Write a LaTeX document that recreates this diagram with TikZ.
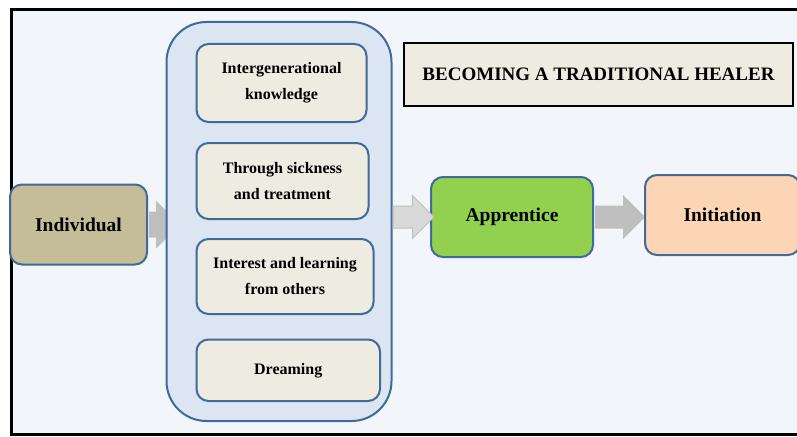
\documentclass[tikz,border=0pt]{standalone}
\usepackage{fontspec}
\setmainfont{Liberation Serif}
\usepackage{tikz}
\usetikzlibrary{positioning,shapes,shapes.arrows}

\definecolor{frameBg}{HTML}{F2F5FA}
\definecolor{groupFill}{HTML}{DCE6F2}
\definecolor{boxLine}{HTML}{41699A}
\definecolor{boxFill}{HTML}{EEECE1}
\definecolor{indFill}{HTML}{C4BD97}
\definecolor{appFill}{HTML}{92D050}
\definecolor{iniFill}{HTML}{FCD5B5}
\definecolor{arrowGray}{HTML}{BFBFBF}
\definecolor{arrowLight}{HTML}{D9D9D9}

\begin{document}
\begin{tikzpicture}[x=1pt, y=-1pt, line width=2pt,
    stagebox/.style={draw=boxLine, rounded corners=12pt, minimum height=80pt, inner sep=0pt, font=\fontsize{19.5}{24}\selectfont\bfseries},
    waybox/.style={draw=boxLine, fill=boxFill, rounded corners=12pt, inner sep=0pt, align=center, font=\fontsize{16}{26}\selectfont\bfseries},
    flowarrow/.style={single arrow, fill=arrowGray, draw=none, inner xsep=0pt, inner ysep=10.5pt, single arrow head extend=10.5pt, anchor=tail}]
    \useasboundingbox (0,0) rectangle (797,436);
    \draw[line width=3pt, fill=frameBg] (11,10) rectangle (810,434.5);

    \node[stagebox, fill=indFill, minimum width=137pt] (ind) at (78.5,224.5) {Individual};
    \node[flowarrow, inner ysep=12pt, single arrow head extend=11pt, minimum height=31pt] (arrInd) at (ind.east) {};

    \node[draw=boxLine, fill=groupFill, rounded corners=40pt, minimum width=225pt, minimum height=399pt] (ways) at (279,221.5) {};
    \node[waybox, minimum width=170pt, minimum height=78pt, anchor=north west] (w1) at (195.5,43) {Intergenerational\\knowledge};
    \node[waybox, minimum width=172pt, minimum height=76pt, below=19pt of w1.south west, anchor=north west] (w2) {Through sickness\\and treatment};
    \node[waybox, minimum width=177pt, minimum height=75pt, below=18pt of w2.south west, anchor=north west] (w3) {Interest and learning\\from others};
    \node[waybox, minimum width=183.5pt, minimum height=61.5pt, below=23.5pt of w3.south west, anchor=north west] (w4) {Dreaming};

    \node[stagebox, fill=appFill, minimum width=162pt] (app) at (512,217) {Apprentice};
    \node[flowarrow, fill=arrowLight, draw=arrowGray, line width=1pt, minimum height=41pt] (arrWays) at (ways.east |- app.west) {};
    \node[flowarrow, minimum height=50pt] (arrApp) at (app.east) {};
    \node[stagebox, fill=iniFill, minimum width=155pt, right=50pt of app, yshift=2pt] (ini) {Initiation};

    \node[draw=black, line width=2.5pt, fill=boxFill, minimum width=389pt, minimum height=63pt, font=\fontsize{19}{24}\selectfont\bfseries] (title) at (598.5,74.5) {BECOMING A TRADITIONAL HEALER};
\end{tikzpicture}
\end{document}
